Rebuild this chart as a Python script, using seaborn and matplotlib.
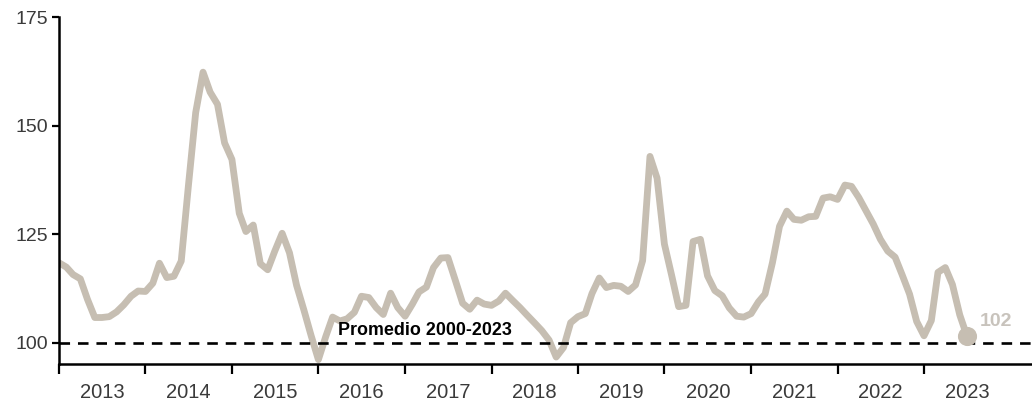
import numpy as np
import pandas as pd
import matplotlib
matplotlib.use("Agg")
import matplotlib.pyplot as plt
import matplotlib.dates as mdates
import seaborn as sns

# ---- data (monthly, Jan 2013 - Jul 2023) ----
valores = [
    118.4, 117.4, 115.7, 114.7, 110.0, 105.8, 105.8, 106.0, 107.1, 108.7, 110.7, 111.9,   # 2013
    111.8, 113.7, 118.3, 115.0, 115.3, 118.8, 136.0, 153.0, 162.3, 157.7, 154.9, 146.0,   # 2014
    142.2, 129.8, 125.6, 127.1, 118.2, 116.8, 121.1, 125.2, 120.7, 113.2, 107.5, 101.7,   # 2015
    96.1, 101.4, 105.9, 105.0, 105.5, 107.0, 110.7, 110.4, 108.1, 106.5, 111.4, 108.1,    # 2016
    106.1, 108.9, 111.7, 112.8, 117.3, 119.5, 119.6, 114.4, 109.1, 107.7, 109.8, 108.9,   # 2017
    108.6, 109.6, 111.4, 109.7, 108.1, 106.3, 104.6, 102.8, 100.6, 96.7, 98.9, 104.6,     # 2018
    106.0, 106.7, 111.3, 114.9, 112.7, 113.2, 113.0, 111.8, 113.3, 118.9, 142.9, 137.9,   # 2019
    122.7, 115.4, 108.3, 108.6, 123.3, 123.8, 115.4, 112.0, 110.8, 108.0, 106.1, 105.9,   # 2020
    106.7, 109.4, 111.2, 118.4, 126.8, 130.3, 128.4, 128.2, 129.0, 129.1, 133.3, 133.6,   # 2021
    133.0, 136.3, 136.0, 133.4, 130.4, 127.3, 123.8, 121.1, 119.7, 115.6, 111.2, 104.9,   # 2022
    101.6, 105.1, 116.2, 117.3, 113.4, 106.4, 101.6,                                      # 2023
]
fechas = pd.date_range("2013-01-01", periods=len(valores), freq="MS")
anios = list(range(2013, 2024))
y_ticks = [100, 125, 150, 175]
promedio = 100
promedio_label = "Promedio 2000-2023"
ultimo_label = "102"

df = pd.DataFrame({"fecha": fechas, "valor": valores})

line_color = "#C6BEB2"
label_color = "#C8C3BC"

sns.set_style("ticks")
plt.rcParams["font.family"] = ["Liberation Sans", "DejaVu Sans"]

fig = plt.figure(figsize=(10.32, 4.01), dpi=100)
ax = fig.add_axes([0.0572, 0.0923, 0.9428, 0.8653])

sns.lineplot(data=df, x="fecha", y="valor", ax=ax, color=line_color,
             linewidth=4.9, solid_joinstyle="round", solid_capstyle="round")

# last point marker
ax.scatter([df["fecha"].iloc[-1]], [df["valor"].iloc[-1]], s=190,
           color=line_color, zorder=5, linewidths=0)
ax.annotate(ultimo_label, xy=(df["fecha"].iloc[-1], df["valor"].iloc[-1]),
            xytext=(9, 4), textcoords="offset points", ha="left", va="bottom",
            fontsize=14, fontweight="bold", color=label_color)

# average dashed line
ax.axhline(promedio, color="black", linewidth=1.9, linestyle=(0, (4, 3)), zorder=4)
ax.text(pd.Timestamp("2016-03-25"), promedio + 0.9, promedio_label,
        fontsize=12.9, fontweight="bold", color="black", ha="left", va="bottom")

# axes limits
ax.set_xlim(pd.Timestamp("2013-01-01"), pd.Timestamp("2024-04-01"))
ax.set_ylim(95.1, 175)

# y ticks
ax.set_yticks(y_ticks)
ax.tick_params(axis="y", which="major", length=5, width=1.6, color="black",
               labelsize=14, labelcolor="#3A3A3A", pad=3)

# x ticks: majors at year starts (no labels), minors at mid-year (labels)
ax.set_xticks([pd.Timestamp(f"{a}-01-01") for a in anios])
ax.set_xticklabels([])
ax.set_xticks([pd.Timestamp(f"{a}-07-02") for a in anios], minor=True)
ax.set_xticklabels([str(a) for a in anios], minor=True)
ax.tick_params(axis="x", which="major", length=7, width=1.6, color="black")
ax.tick_params(axis="x", which="minor", length=0, labelsize=14.5,
               labelcolor="#3A3A3A", pad=14)

for s in ["top", "right"]:
    ax.spines[s].set_visible(False)
for s in ["left", "bottom"]:
    ax.spines[s].set_linewidth(1.8)
    ax.spines[s].set_color("black")

ax.set_xlabel("")
ax.set_ylabel("")

fig.savefig("out.png", dpi=100)
